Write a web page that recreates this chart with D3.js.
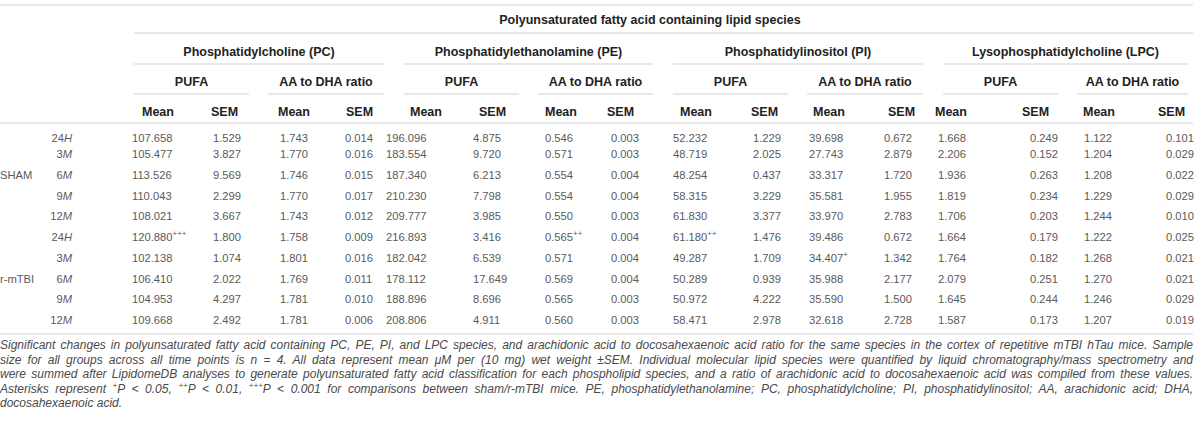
<!DOCTYPE html>
<html>
<head>
<meta charset="utf-8">
<script src="https://cdn.jsdelivr.net/npm/d3@7"></script>
<style>
  body { margin: 0; background: #fff; }
  svg { display: block; font-family: "Liberation Sans", Arial, sans-serif; }
</style>
</head>
<body>
<div id="tabela"></div>
<script>
const grupos = ['SHAM', 'r-mTBI'];
const tempos = ['24H', '3M', '6M', '9M', '12M'];
const lipidios = ['Phosphatidylcholine (PC)', 'Phosphatidylethanolamine (PE)', 'Phosphatidylinositol (PI)', 'Lysophosphatidylcholine (LPC)'];
const medidas = ['PUFA', 'AA to DHA ratio'];
const estatisticas = ['Mean', 'SEM'];

const pcPufaMean = [107.658, 105.477, 113.526, 110.043, 108.021, 120.880, 102.138, 106.410, 104.953, 109.668];
const pcPufaSem = [1.529, 3.827, 9.569, 2.299, 3.667, 1.800, 1.074, 2.022, 4.297, 2.492];
const pcRatioMean = [1.743, 1.770, 1.746, 1.770, 1.743, 1.758, 1.801, 1.769, 1.781, 1.781];
const pcRatioSem = [0.014, 0.016, 0.015, 0.017, 0.012, 0.009, 0.016, 0.011, 0.010, 0.006];
const pePufaMean = [196.096, 183.554, 187.340, 210.230, 209.777, 216.893, 182.042, 178.112, 188.896, 208.806];
const pePufaSem = [4.875, 9.720, 6.213, 7.798, 3.985, 3.416, 6.539, 17.649, 8.696, 4.911];
const peRatioMean = [0.546, 0.571, 0.554, 0.554, 0.550, 0.565, 0.571, 0.569, 0.565, 0.560];
const peRatioSem = [0.003, 0.003, 0.004, 0.004, 0.003, 0.004, 0.004, 0.004, 0.003, 0.003];
const piPufaMean = [52.232, 48.719, 48.254, 58.315, 61.830, 61.180, 49.287, 50.289, 50.972, 58.471];
const piPufaSem = [1.229, 2.025, 0.437, 3.229, 3.377, 1.476, 1.709, 0.939, 4.222, 2.978];
const piRatioMean = [39.698, 27.743, 33.317, 35.581, 33.970, 39.486, 34.407, 35.988, 35.590, 32.618];
const piRatioSem = [0.672, 2.879, 1.720, 1.955, 2.783, 0.672, 1.342, 2.177, 1.500, 2.728];
const lpcPufaMean = [1.668, 2.206, 1.936, 1.819, 1.706, 1.664, 1.764, 2.079, 1.645, 1.587];
const lpcPufaSem = [0.249, 0.152, 0.263, 0.234, 0.203, 0.179, 0.182, 0.251, 0.244, 0.173];
const lpcRatioMean = [1.122, 1.204, 1.208, 1.229, 1.244, 1.222, 1.268, 1.270, 1.246, 1.207];
const lpcRatioSem = [0.101, 0.029, 0.022, 0.029, 0.010, 0.025, 0.021, 0.021, 0.029, 0.019];

// significancia: linha, coluna, marca
const significancia = [
    {row: 5, col: 0, sig: '+++'},
    {row: 5, col: 6, sig: '++'},
    {row: 5, col: 8, sig: '++'},
    {row: 6, col: 10, sig: '+'}
];

const titulo = 'Polyunsaturated fatty acid containing lipid species';

const legenda = [
    'Significant changes in polyunsaturated fatty acid containing PC, PE, PI, and LPC species, and arachidonic acid to docosahexaenoic acid ratio for the same species in the cortex of repetitive mTBI hTau mice. Sample',
    'size for all groups across all time points is n = 4. All data represent mean \u03bcM per (10 mg) wet weight \u00b1SEM. Individual molecular lipid species were quantified by liquid chromatography/mass spectrometry and',
    'were summed after LipidomeDB analyses to generate polyunsaturated fatty acid classification for each phospholipid species, and a ratio of arachidonic acid to docosahexaenoic acid was compiled from these values.',
    'Asterisks represent {+}P < 0.05, {++}P < 0.01, {+++}P < 0.001 for comparisons between sham/r-mTBI mice. PE, phosphatidylethanolamine; PC, phosphatidylcholine; PI, phosphatidylinositol; AA, arachidonic acid; DHA,',
    'docosahexaenoic acid.'
];

const colunas = [pcPufaMean, pcPufaSem, pcRatioMean, pcRatioSem,
                 pePufaMean, pePufaSem, peRatioMean, peRatioSem,
                 piPufaMean, piPufaSem, piRatioMean, piRatioSem,
                 lpcPufaMean, lpcPufaSem, lpcRatioMean, lpcRatioSem];

const desenhaTabela = (seletor) => {
    const width = 1200, height = 423;
    const right = 1193;
    const corLinha = '#d2d2d2';
    const corTexto = '#222';
    const corDado = '#5a5a5a';
    const fonteDado = '11.2px';
    const fmt = d3.format('.3f');

    const svg = d3.select(seletor)
                  .append('svg')
                      .attr('width', width)
                      .attr('height', height);

    // posicoes das colunas (esquerda do texto)
    const xDado = d3.scaleOrdinal()
                    .domain(d3.range(16))
                    .range([132, 213, 280, 345, 386, 473, 545, 611, 673, 753, 809, 884, 938, 1030, 1084, 1166]);
    const xCab = d3.scaleOrdinal()
                   .domain(d3.range(16))
                   .range([142, 211, 278, 346, 410, 479, 545, 607, 680, 751, 813, 888, 935, 1022, 1083, 1158]);
    const grupoX = d3.scaleOrdinal().domain(d3.range(4)).range([134, 404, 673, 943]);
    const grupoW = d3.scaleOrdinal().domain(d3.range(4)).range([250, 249, 250, 245]);

    // primeira linha de dados mais colada na segunda
    const yLinha = d3.scaleLinear().domain([0, 1, 9]).range([138, 154, 320]);

    const linha = (x1, x2, y) => {
        svg.append('line')
            .attr('x1', x1).attr('x2', x2)
            .attr('y1', y).attr('y2', y)
            .attr('stroke', corLinha)
            .attr('stroke-width', 1.2);
    };

    const cab = (txt, x, y, anchor) => {
        svg.append('text')
            .attr('x', x).attr('y', y)
            .attr('dominant-baseline', 'central')
            .attr('text-anchor', anchor || 'middle')
            .attr('font-size', '12.5px')
            .attr('font-weight', 'bold')
            .attr('fill', corTexto)
            .text(txt);
    };

    // cabecalho
    linha(0, right, 5);
    cab(titulo, 650, 20);
    linha(134, right, 33);

    lipidios.forEach((nome, g) => {
        const gx = grupoX(g), gw = grupoW(g);
        cab(nome, gx + gw / 2, 52);
        linha(gx, gx + gw, 64);
        medidas.forEach((m, k) => {
            const sx = k == 0 ? gx : gx + 134;
            const sw = k == 0 ? 115 : gw - 134;
            cab(m, sx + sw / 2, 82);
            linha(sx, sx + sw, 94);
            estatisticas.forEach((e, j) => {
                cab(e, xCab(g * 4 + k * 2 + j), 112, 'start');
            });
        });
    });
    linha(0, right, 123);

    // rotulos das linhas
    grupos.forEach((gr, i) => {
        svg.append('text')
            .attr('x', 0)
            .attr('y', yLinha(i * 5 + 2))
            .attr('dominant-baseline', 'central')
            .attr('font-size', fonteDado)
            .attr('fill', corDado)
            .text(gr);

        tempos.forEach((t, j) => {
            const txt = svg.append('text')
                .attr('x', 72)
                .attr('y', yLinha(i * 5 + j))
                .attr('dominant-baseline', 'central')
                .attr('text-anchor', 'end')
                .attr('font-size', fonteDado)
                .attr('fill', corDado);
            txt.append('tspan').text(t.slice(0, -1));
            txt.append('tspan').attr('font-style', 'italic').text(t.slice(-1));
        });
    });

    // celulas
    colunas.forEach((valores, c) => {
        svg.selectAll(null)
            .data(valores)
            .enter()
            .append('text')
                .attr('x', xDado(c))
                .attr('y', (d, r) => yLinha(r))
                .attr('dominant-baseline', 'central')
                .attr('font-size', fonteDado)
                .attr('fill', corDado)
                .each(function(d, r) {
                    const el = d3.select(this);
                    el.append('tspan').text(fmt(d));
                    const s = significancia.filter(p => p.row == r && p.col == c);
                    if (s.length == 1) {
                        el.append('tspan')
                            .attr('dy', -4)
                            .attr('font-size', '8px')
                            .text(s[0].sig);
                    }
                });
    });

    linha(0, right, 334);

    // legenda justificada
    const linhasLeg = legenda.map((l, i) => {
        const t = svg.append('text')
            .attr('x', 0)
            .attr('y', 345 + i * 14.6)
            .attr('dominant-baseline', 'central')
            .attr('font-size', '12px')
            .attr('font-style', 'italic')
            .attr('fill', '#4a4a4a');
        let sobe = false;
        l.split(/(\{[^}]*\})/).filter(p => p.length > 0).forEach(p => {
            if (p[0] == '{') {
                t.append('tspan').attr('dy', -4).attr('font-size', '8px').text(p.slice(1, -1));
                sobe = true;
            } else {
                const ts = t.append('tspan').text(p);
                if (sobe) { ts.attr('dy', 4); sobe = false; }
            }
        });
        return t;
    });

    const larguras = linhasLeg.map(t => t.node().getComputedTextLength());
    const escala = Math.min(1, right / d3.max(larguras));
    linhasLeg.forEach(t => t.attr('font-size', (12 * escala) + 'px'));
    linhasLeg.forEach((t, i) => {
        if (i == linhasLeg.length - 1) return;
        const w = t.node().getComputedTextLength();
        const espacos = (legenda[i].match(/ /g) || []).length;
        t.attr('word-spacing', ((right - w) / espacos) + 'px');
    });
};

desenhaTabela('#tabela');
</script>
</body>
</html>
